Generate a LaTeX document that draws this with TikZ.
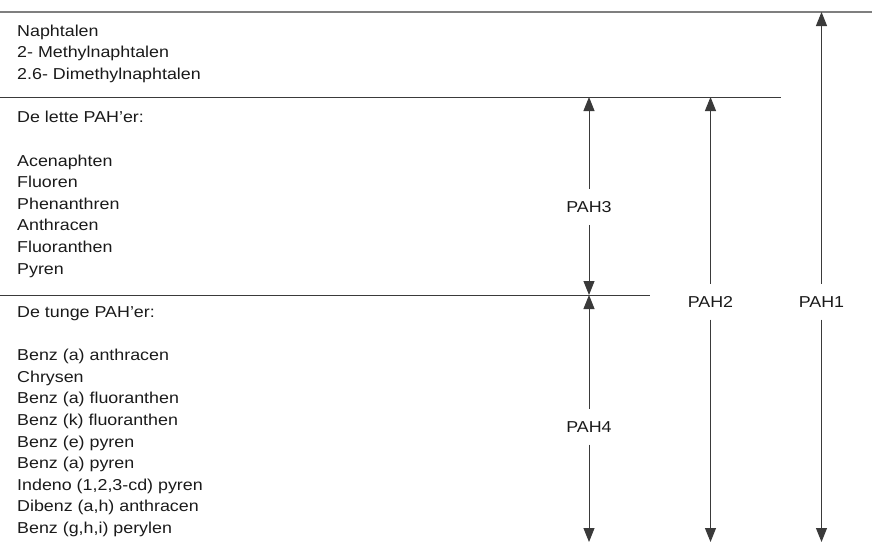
\documentclass[tikz,border=0pt]{standalone}
\usepackage{fontspec}
\setmainfont{Liberation Sans}[FakeStretch=1.13]
\usetikzlibrary{arrows.meta}
\definecolor{inkgray}{HTML}{1A1A1A}
\definecolor{rulegray}{HTML}{3A3A3A}
\definecolor{topgray}{HTML}{7F7F7F}

\begin{document}
\begin{tikzpicture}
  [x=1pt, y=-1pt,
   rule/.style={draw=rulegray, line width=1pt},
   top rule/.style={draw=topgray, line width=1.4pt},
   dim/.style={draw=rulegray, line width=1pt, -{Triangle[length=14pt,width=11pt]}},
   entry/.style={anchor=base west, inner sep=0pt, text=inkgray,
                 font=\fontsize{15.8}{19}\selectfont},
   tag/.style={inner xsep=2pt, inner ysep=12.3pt, text=inkgray,
               font=\fontsize{15.8}{19}\selectfont}]

  \useasboundingbox (0,0) rectangle (872,542);

  \def\RowSep{21.62}
  \def\FirstBase{36.3}

  % horizontal rules
  \coordinate (rule-top-w) at (0,12);
  \coordinate (rule-top-e) at (872,12);
  \coordinate (rule-mid-w) at (0,97);
  \coordinate (rule-mid-e) at (781,97);
  \coordinate (rule-low-w) at (0,295);
  \coordinate (rule-low-e) at (650,295);
  \draw [top rule] (rule-top-w) -- (rule-top-e);
  \draw [rule] (rule-mid-w) -- (rule-mid-e);
  \draw [rule] (rule-low-w) -- (rule-low-e);

  % list of compounds
  \foreach \Row/\Txt in {0/Naphtalen, 1/2- Methylnaphtalen, 2/2.6- Dimethylnaphtalen,
      4/De lette PAH’er:, 6/Acenaphten, 7/Fluoren, 8/Phenanthren, 9/Anthracen,
      10/Fluoranthen, 11/Pyren,
      13/De tunge PAH’er:, 15/Benz (a) anthracen, 16/Chrysen,
      17/Benz (a) fluoranthen, 18/Benz (k) fluoranthen, 19/Benz (e) pyren,
      20/Benz (a) pyren, {21/Indeno (1,2,3-cd) pyren}, {22/Dibenz (a,h) anthracen},
      {23/Benz (g,h,i) perylen}}
    \node [entry] (row-\Row) at (17, \FirstBase + \Row*\RowSep) {\Txt};

  % group arrows
  \coordinate (pah3-n) at (589,97);
  \coordinate (pah3-s) at (589,295);
  \coordinate (pah4-n) at (589,295);
  \coordinate (pah4-s) at (589,542);
  \coordinate (pah2-n) at (710.5,97);
  \coordinate (pah2-s) at (710.5,542);
  \coordinate (pah1-n) at (821.5,12);
  \coordinate (pah1-s) at (821.5,542);

  \node [tag] (pah3) at (589,206.7) {PAH3};
  \node [tag] (pah4) at (589,426.7) {PAH4};
  \node [tag] (pah2) at (710.5,301.7) {PAH2};
  \node [tag] (pah1) at (821.5,301.7) {PAH1};

  \foreach \Name in {pah1, pah2, pah3, pah4} {
    \draw [dim] (\Name) -- (\Name-n);
    \draw [dim] (\Name) -- (\Name-s);
  }
\end{tikzpicture}
\end{document}
